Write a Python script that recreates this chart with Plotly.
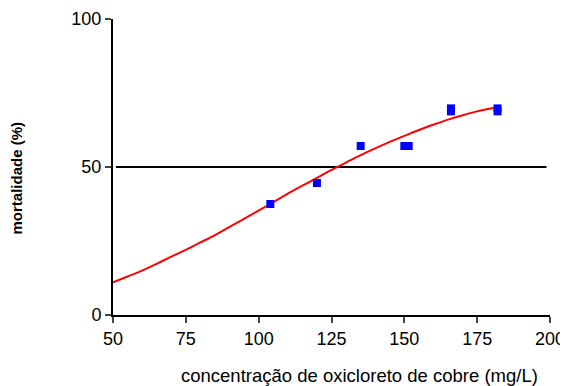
import plotly.graph_objects as go

# Observed data points
obs_x = [104, 120, 135, 150, 151.5, 166, 166, 182, 182]
obs_y = [37.5, 44.6, 57.1, 57.1, 57.1, 68.8, 69.8, 68.8, 69.8]

# Fitted curve
fit_x = [50, 55, 60, 65, 70, 75, 80, 85, 90, 95, 100, 104, 110, 115, 120, 125,
         130, 135, 140, 145, 150, 155, 160, 165, 170, 175, 182]
fit_y = [11, 13, 15, 17.3, 19.7, 22, 24.5, 27, 29.8, 32.5, 35.3, 37.5, 41, 43.7,
         46.3, 49, 51.5, 54, 56.3, 58.5, 60.5, 62.5, 64.3, 66, 67.5, 68.8, 70.3]

# Reference line at 50 %
ref_x = [51.0, 198.8]
ref_y = [50, 50]

x_ticks = [50, 75, 100, 125, 150, 175, 200]
y_ticks = [0, 50, 100]

fig = go.Figure()
fig.add_trace(go.Scatter(x=ref_x, y=ref_y, mode="lines",
                         line=dict(color="black", width=2), showlegend=False))
fig.add_trace(go.Scatter(x=fit_x, y=fit_y, mode="lines",
                         line=dict(color="#ff0000", width=2, shape="spline",
                                   smoothing=1.0),
                         showlegend=False))
fig.add_trace(go.Scatter(x=obs_x, y=obs_y, mode="markers",
                         marker=dict(symbol="square", size=8, color="#0000ff"),
                         showlegend=False))

# The page body adds an 8px margin, so the figure is sized/offset accordingly.
fig.update_layout(
    width=560, height=378,
    margin=dict(l=105, r=18, t=11, b=71, autoexpand=False),
    paper_bgcolor="white", plot_bgcolor="white",
    font=dict(family="Liberation Sans, Arial, sans-serif", color="black"),
    xaxis=dict(range=[50, 200], tickvals=x_ticks, ticks="outside", ticklen=6,
               tickwidth=2, linewidth=2, linecolor="black", showgrid=False,
               zeroline=False, showline=True, tickfont=dict(size=18),
               automargin=False),
    yaxis=dict(range=[0, 100], tickvals=y_ticks, ticks="outside", ticklen=6,
               tickwidth=2, linewidth=2, linecolor="black", showgrid=False,
               zeroline=False, showline=True, tickfont=dict(size=18),
               automargin=False),
    annotations=[
        dict(text="concentração de oxicloreto de cobre (mg/L)",
             xref="paper", yref="paper", x=0.565, y=-0.206,
             xanchor="center", yanchor="middle", showarrow=False,
             font=dict(size=18.5)),
        dict(text="<b>mortalidade (%)</b>", textangle=-90,
             xref="paper", yref="paper", x=-0.2197, y=0.4645,
             xanchor="center", yanchor="middle", showarrow=False,
             font=dict(size=15)),
    ],
)

fig.write_html("out.html")
